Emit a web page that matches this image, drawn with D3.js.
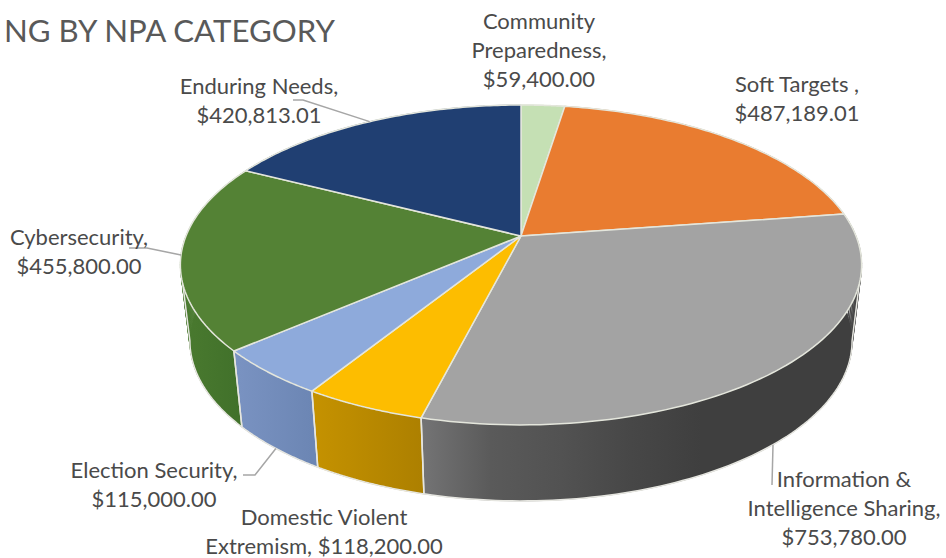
<!DOCTYPE html>
<html>
<head>
<meta charset="utf-8">
<script src="https://cdn.jsdelivr.net/npm/d3@7"></script>
<style>
  html, body { margin: 0; padding: 0; background: #fff; }
  text { font-family: Lato, "Open Sans", sans-serif; fill: #4a4a4a; }
</style>
</head>
<body>
<svg></svg>
<script>
// Svg size
const width = 946
const height = 558

// Data
const categories = ["Community Preparedness", "Soft Targets", "Information & Intelligence Sharing",
    "Domestic Violent Extremism", "Election Security", "Cybersecurity", "Enduring Needs"]
const values = [59400.00, 487189.01, 753780.00, 118200.00, 115000.00, 455800.00, 420813.01]
const labelLines = [
    ["Community", "Preparedness,", "$59,400.00"],
    ["Soft Targets ,", "$487,189.01"],
    ["Information &", "Intelligence Sharing,", "$753,780.00"],
    ["Domestic Violent", "Extremism, $118,200.00"],
    ["Election Security,", "$115,000.00"],
    ["Cybersecurity,", "$455,800.00"],
    ["Enduring Needs,", "$420,813.01"]
]

// Colors
const topColors = ["#c5e0b4", "#e97c30", "#a3a3a3", "#fdbd00", "#8eaadb", "#548235", "#203f72"]
const sideColors = [
    ["#a5bd93", "#a5bd93"],
    ["#b5601f", "#b5601f"],
    ["#747475", "#5a5a5a", "#525252", "#474747", "#3f3f3f"],
    ["#c59200", "#ad8000"],
    ["#7a93c2", "#6c86b4"],
    ["#4a7a2f", "#40702a"],
    ["#182f56", "#182f56"]
]

// Label layout: center x, first baseline, leader elbow
const labelLayout = [
    { x: 539, y: 29 },
    { x: 797, y: 92 },
    { x: 844, y: 487, leader: [[772, 485]], onRim: true },
    { x: 324, y: 525 },
    { x: 154, y: 478, leader: [[243, 475], [255, 475]], onRim: true },
    { x: 79, y: 245, leader: [[129, 248], [147, 248]] },
    { x: 259, y: 94, leader: [[293, 100], [303, 100]] }
]
const lineHeight = 29

// Pie geometry
const cx = 521
const cy = 236
const radiusX = 335
const radiusY = 154.7
const tilt = 0.181
const depth = 76
const depthShrink = 0.972

const svg = d3.select("svg")
    .attr("width", width)
    .attr("height", height)
    .style("display", "block")

const pie = d3.pie().sort(null).value(d => d)
const arcs = pie(values)

// Perspective projection of a rim point, angle clockwise from 12 o'clock
const project = (angle, bottom = false) => {
    const s = 1 / (1 + tilt * Math.cos(angle))
    const x = radiusX * Math.sin(angle) * s
    const y = -radiusY * Math.cos(angle) * s
    return bottom
        ? [cx + x * depthShrink, cy + y + depth]
        : [cx + x, cy + y]
}

// Where the rim turns back: the front of the wall is visible between these
const frontStart = Math.acos(-tilt)
const frontEnd = 2 * Math.PI - frontStart

const rim = (a0, a1) => d3.range(0, 1.0001, 1 / 80).map(t => a0 + (a1 - a0) * t)
const line = d3.line()

// Gradients for the side wall
const defs = svg.append("defs")
arcs.forEach((d, i) => {
    const xDomain = d3.extent(rim(d.startAngle, d.endAngle), a => project(a)[0])
    const isInfo = i === 2
    const grad = defs.append("linearGradient")
        .attr("id", `side${i}`)
        .attr("gradientUnits", "userSpaceOnUse")
        .attr("x1", isInfo ? project(d.endAngle)[0] : xDomain[0])
        .attr("x2", isInfo ? project(d.endAngle)[0] + 280 : xDomain[1])
        .attr("y1", 0).attr("y2", 0)
    sideColors[i].forEach((c, j) => {
        grad.append("stop")
            .attr("offset", j / (sideColors[i].length - 1))
            .attr("stop-color", c)
    })
})

const g = svg.append("g")

// Side wall as small quads, so the fold at the left and right edge stays filled
const sideQuads = d => {
    const angles = rim(d.startAngle, d.endAngle)
    return d3.pairs(angles)
        .map(([a, b]) => line([project(a), project(b), project(b, true), project(a, true)]) + "Z")
        .join("")
}
g.selectAll("path.side").data(arcs).enter()
    .append("path")
    .attr("class", "side")
    .attr("d", sideQuads)
    .attr("fill", (d, i) => `url(#side${i})`)
    .attr("stroke", (d, i) => `url(#side${i})`)
    .attr("stroke-width", 0.6)

// Light outline of the wall, only on the part facing us
const frontArcs = arcs
    .map(d => ({ a0: Math.max(d.startAngle, frontStart), a1: Math.min(d.endAngle, frontEnd) }))
    .filter(d => d.a0 < d.a1)
g.selectAll("path.sideEdge").data(frontArcs).enter()
    .append("path")
    .attr("class", "sideEdge")
    .attr("d", d => line([project(d.a0), ...rim(d.a0, d.a1).map(a => project(a, true)), project(d.a1)]))
    .attr("fill", "none")
    .attr("stroke", "#e6e6e0")
    .attr("stroke-width", 1.5)
    .attr("stroke-linejoin", "round")

// Top face, covers whatever of the wall is behind it
g.selectAll("path.top").data(arcs).enter()
    .append("path")
    .attr("class", "top")
    .attr("d", d => line([[cx, cy], ...rim(d.startAngle, d.endAngle).map(a => project(a))]) + "Z")
    .attr("fill", (d, i) => topColors[i])
    .attr("stroke", "#e4e6dc")
    .attr("stroke-width", 1.5)
    .attr("stroke-linejoin", "round")

// Leader lines
arcs.forEach((d, i) => {
    const layout = labelLayout[i]
    if (!layout.leader) return
    const mid = (d.startAngle + d.endAngle) / 2
    svg.append("path")
        .attr("d", line([...layout.leader, project(mid, layout.onRim)]))
        .attr("fill", "none")
        .attr("stroke", "#a6a6a6")
        .attr("stroke-width", 1.5)
})

// Labels
categories.forEach((name, i) => {
    const layout = labelLayout[i]
    const text = svg.append("text")
        .attr("class", "label")
        .attr("text-anchor", "middle")
        .attr("font-size", 22)
    labelLines[i].forEach((l, j) => {
        text.append("tspan")
            .attr("x", layout.x)
            .attr("y", layout.y + j * lineHeight)
            .text(l)
    })
})

// Chart title, cut off at the left in the picture
svg.append("text")
    .attr("x", 4)
    .attr("y", 42)
    .attr("font-size", 31.2)
    .style("fill", "#595959")
    .text("NG BY NPA CATEGORY")
</script>
</body>
</html>
